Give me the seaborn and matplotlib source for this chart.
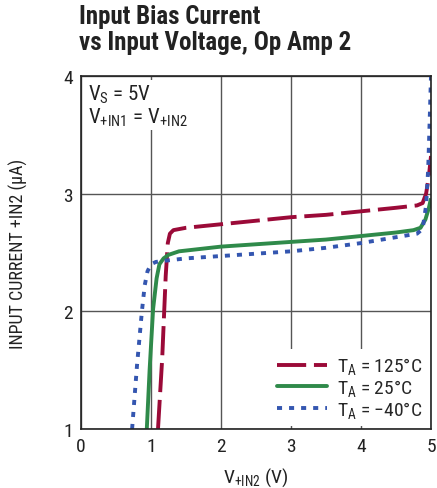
import matplotlib
matplotlib.use("Agg")
import matplotlib.pyplot as plt
import seaborn as sns
import pandas as pd

# ---- data ----
x_125 = [1.10, 1.16, 1.21, 1.24, 1.27, 1.32, 1.50, 2.00, 2.50, 3.00, 3.50, 4.00, 4.50, 4.80, 4.88, 4.93, 4.97, 5.00]
y_125 = [1.00, 1.60, 2.30, 2.58, 2.66, 2.69, 2.71, 2.74, 2.77, 2.80, 2.82, 2.85, 2.88, 2.90, 2.92, 3.00, 3.15, 3.32]

x_25 = [0.94, 0.98, 1.03, 1.08, 1.12, 1.18, 1.25, 1.40, 2.00, 2.50, 3.00, 3.50, 4.00, 4.50, 4.75, 4.85, 4.92, 4.97, 5.00]
y_25 = [1.00, 1.50, 2.02, 2.28, 2.40, 2.45, 2.48, 2.51, 2.55, 2.57, 2.59, 2.61, 2.64, 2.67, 2.69, 2.71, 2.78, 2.88, 2.96]

x_m40 = [0.73, 0.80, 0.87, 0.91, 0.95, 1.00, 1.07, 1.20, 1.50, 2.00, 2.50, 3.00, 3.50, 4.00, 4.50, 4.80, 4.88, 4.93, 4.96, 4.98, 5.00]
y_m40 = [1.00, 1.54, 2.00, 2.22, 2.34, 2.40, 2.42, 2.43, 2.45, 2.47, 2.49, 2.51, 2.54, 2.58, 2.63, 2.66, 2.70, 2.90, 3.21, 3.60, 4.00]

labels = [r"T$_\mathregular{A}$ = 125°C", r"T$_\mathregular{A}$ = 25°C", r"T$_\mathregular{A}$ = −40°C"]
colors = ["#9b0a38", "#2f8a4a", "#3456b0"]

df = pd.concat([
    pd.DataFrame({"x": x_125, "y": y_125, "s": labels[0]}),
    pd.DataFrame({"x": x_25, "y": y_25, "s": labels[1]}),
    pd.DataFrame({"x": x_m40, "y": y_m40, "s": labels[2]}),
], ignore_index=True)

sns.set_style("white")
FONT = "Roboto Condensed"
plt.rcParams["font.family"] = [FONT, "DejaVu Sans"]
plt.rcParams["mathtext.fontset"] = "custom"
plt.rcParams["mathtext.rm"] = FONT
plt.rcParams["mathtext.it"] = FONT
plt.rcParams["mathtext.bf"] = FONT + ":bold"

fig = plt.figure(figsize=(4.37, 4.89), dpi=100)
ax = fig.add_axes([81/437, 1-430/489, 350/437, 353/489])

sns.lineplot(data=df, x="x", y="y", hue="s", palette=colors, sort=False,
             estimator=None, ax=ax, linewidth=2.8, legend=True)

dash_styles = [(0, (7.5, 2)), "-", (0, (1.3, 1.8))]
for line, ls in zip(ax.get_lines(), dash_styles):
    line.set_linestyle(ls)
    line.set_solid_capstyle("butt")
    line.set_dash_capstyle("butt")

ax.set_xlim(0, 5)
ax.set_ylim(1, 4)
ax.set_xticks([0, 1, 2, 3, 4, 5])
ax.set_yticks([1, 2, 3, 4])
ax.grid(True, color="#555555", linewidth=1.0)
ax.set_axisbelow(True)
for sp in ax.spines.values():
    sp.set_color("#222222")
    sp.set_linewidth(1.2)
ax.tick_params(axis="both", labelsize=14, length=0, pad=6, colors="#222222")

ax.set_xlabel(r"V$_\mathregular{+IN2}$ (V)", fontsize=14, color="#222222", labelpad=7)
ax.set_ylabel("INPUT CURRENT +IN2 (µA)", fontsize=13, color="#222222", labelpad=25)

leg = ax.legend(loc="lower right", frameon=True, fontsize=14, handlelength=2.6,
                handletextpad=0.5, labelspacing=0.05, borderaxespad=0.15,
                borderpad=0.3, fancybox=False, framealpha=1.0)
leg.get_frame().set_facecolor("white")
leg.get_frame().set_edgecolor("none")
for h, ls in zip(leg.get_lines(), dash_styles):
    h.set_linestyle(ls)
    h.set_linewidth(2.8)

ax.text(0.02, 0.98,
        "V$_\\mathregular{S}$ = 5V\nV$_\\mathregular{+IN1}$ = V$_\\mathregular{+IN2}$",
        transform=ax.transAxes, fontsize=15, va="top", ha="left", color="#222222",
        linespacing=1.0,
        bbox=dict(facecolor="white", edgecolor="none", pad=2))

fig.text(79/437, 1-5/489, "Input Bias Current\nvs Input Voltage, Op Amp 2",
         fontsize=18, fontweight="bold", va="top", ha="left", color="#222222",
         linespacing=1.1)

fig.savefig("out.png", dpi=100)
